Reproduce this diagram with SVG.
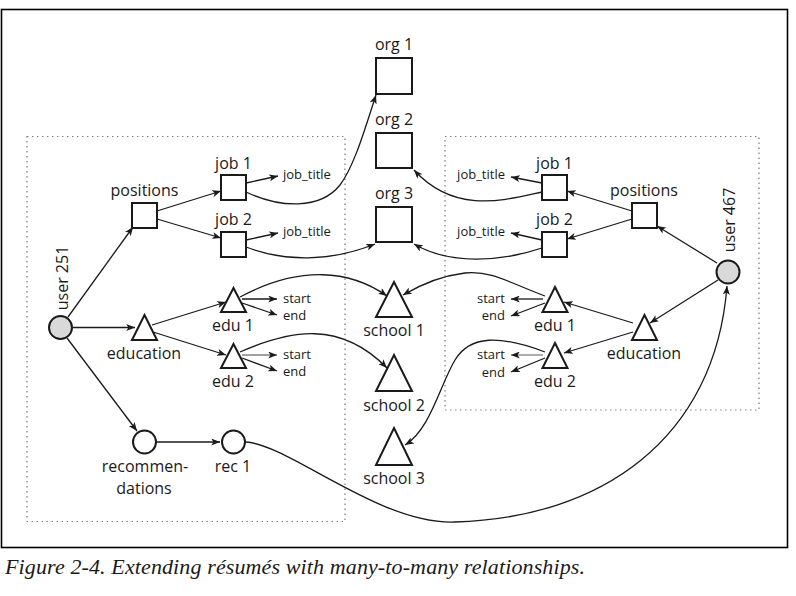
<svg xmlns="http://www.w3.org/2000/svg" width="796" height="596" viewBox="0 0 796 596">
<style>
.frame{fill:none;stroke:#000;stroke-width:1.6}
.group{fill:none;stroke:#7a7a7a;stroke-width:1.2;stroke-dasharray:1.4 3.6}
.node{fill:#fff;stroke:#1a1a1a;stroke-width:2}
.user{fill:#d9d9d9;stroke:#1a1a1a;stroke-width:2}
.edge{fill:none;stroke:#1a1a1a;stroke-width:1.3;marker-end:url(#arr)}
.gray{stroke:#808080}
.lbl{font-family:"Open Sans","DejaVu Sans",sans-serif;font-size:16px;fill:#1a1a1a;text-anchor:middle}
.sm{font-family:"Open Sans","DejaVu Sans",sans-serif;font-size:13px;fill:#1a1a1a}
.end{text-anchor:end}
.cap{font-family:"Liberation Serif","Times New Roman",serif;font-style:italic;font-size:22px;fill:#1a1a1a}
</style>
<defs>
<marker id="arr" markerUnits="userSpaceOnUse" viewBox="0 0 10 8" refX="10" refY="4" markerWidth="9" markerHeight="7" orient="auto">
<path d="M0,0 L10,4 L0,8 L2.5,4 z" fill="#1a1a1a"/>
</marker>
</defs>
<rect width="796" height="596" fill="#fff"/>
<rect class="frame" x="1.5" y="9.5" width="786" height="538"/>
<rect class="group" x="27" y="136.5" width="318" height="385"/>
<rect class="group" x="445" y="136.5" width="314" height="273.5"/>

<g id="connectors">
<path class="edge" d="M68,317 L133,227"/>
<path class="edge" d="M73,327.5 L135,327.5"/>
<path class="edge" d="M67,338 L137,431"/>
<path class="edge" d="M157,211 L221,191"/>
<path class="edge" d="M157,219 L221,238"/>
<path class="edge" d="M246,183 L278,176"/>
<path class="edge" d="M246,240 L278,233"/>
<path class="edge" d="M246,192 C280,208 320,210 340,185 C355,165 366,125 376,95"/>
<path class="edge" d="M246,247 C285,262 330,262 375,244"/>
<path class="edge" d="M152,325 L226,302"/>
<path class="edge" d="M153,332 L226,355"/>
<path class="edge" d="M242,299 L277,299"/>
<path class="edge" d="M242,303 L277,315"/>
<path class="edge gray" d="M242,355 L277,355"/>
<path class="edge" d="M242,358 L277,371"/>
<path class="edge" d="M240,297 C300,265 350,270 387,296"/>
<path class="edge" d="M240,352 C290,330 340,320 387,368"/>
<path class="edge" d="M157,442 L220,442"/>
<path class="edge" d="M246,442 C290,445 380,525 455,522 C600,518 715,440 727,286"/>
<path class="edge" d="M717,263 L657,226"/>
<path class="edge" d="M718,280 L650,323"/>
<path class="edge" d="M632,211 L567,191"/>
<path class="edge" d="M632,219 L567,239"/>
<path class="edge" d="M542,183 L511,177"/>
<path class="edge" d="M542,240 L511,233"/>
<path class="edge" d="M542,192 C505,200 455,215 414,170"/>
<path class="edge" d="M542,248 C500,262 450,265 414,244"/>
<path class="edge" d="M633,323 L564,302"/>
<path class="edge" d="M633,332 L564,353"/>
<path class="edge" d="M543,299 L511,299"/>
<path class="edge" d="M545,303 L511,316"/>
<path class="edge gray" d="M543,355 L511,355"/>
<path class="edge" d="M545,358 L511,372"/>
<path class="edge" d="M545,296 C510,283 490,270 465,273 C440,276 420,285 403,295"/>
<path class="edge" d="M545,352 C500,335 470,335 455,360 C440,385 430,430 405,445"/>
</g>

<g id="user251"><circle class="user" cx="60.5" cy="327.5" r="11.5"/><text class="lbl" transform="translate(68,278) rotate(-90)">user 251</text></g>
<g id="positionsL"><rect class="node" x="132" y="203" width="25" height="25"/><text class="lbl" x="144.5" y="196">positions</text></g>
<g id="job1L"><rect class="node" x="221" y="175" width="25" height="25"/><text class="lbl" x="233.5" y="169">job 1</text><text class="sm" x="283" y="179">job_title</text></g>
<g id="job2L"><rect class="node" x="221" y="232" width="25" height="25"/><text class="lbl" x="233.5" y="225">job 2</text><text class="sm" x="283" y="236">job_title</text></g>
<g id="educationL"><polygon class="node" points="144.5,315 157,340 132,340"/><text class="lbl" x="144" y="359">education</text></g>
<g id="edu1L"><polygon class="node" points="233.5,288 246,312 221,312"/><text class="lbl" x="233" y="331">edu 1</text><text class="sm" x="283" y="303">start</text><text class="sm" x="283" y="320">end</text></g>
<g id="edu2L"><polygon class="node" points="233.5,344 246,368 221,368"/><text class="lbl" x="233" y="387">edu 2</text><text class="sm" x="283" y="359">start</text><text class="sm" x="283" y="376">end</text></g>
<g id="recommendations"><circle class="node" cx="144.5" cy="442" r="11.5"/><text class="lbl" x="145" y="472">recommen-</text><text class="lbl" x="144" y="494">dations</text></g>
<g id="rec1"><circle class="node" cx="233.5" cy="442" r="11.5"/><text class="lbl" x="233" y="472">rec 1</text></g>

<g id="org1"><rect class="node" x="376" y="58" width="36" height="36"/><text class="lbl" x="394" y="50">org 1</text></g>
<g id="org2"><rect class="node" x="376" y="133" width="36" height="35"/><text class="lbl" x="394" y="125">org 2</text></g>
<g id="org3"><rect class="node" x="376" y="207" width="36" height="35"/><text class="lbl" x="394" y="199">org 3</text></g>
<g id="school1"><polygon class="node" points="394,282 412,317 376,317"/><text class="lbl" x="394" y="336">school 1</text></g>
<g id="school2"><polygon class="node" points="394,355 412,391 376,391"/><text class="lbl" x="394" y="411">school 2</text></g>
<g id="school3"><polygon class="node" points="394,428 412,465 376,465"/><text class="lbl" x="394" y="484">school 3</text></g>

<g id="user467"><circle class="user" cx="728" cy="272" r="11.5"/><text class="lbl" transform="translate(735,220) rotate(-90)">user 467</text></g>
<g id="positionsR"><rect class="node" x="632" y="203" width="25" height="25"/><text class="lbl" x="644" y="196">positions</text></g>
<g id="job1R"><rect class="node" x="542" y="175" width="25" height="25"/><text class="lbl" x="554.5" y="169">job 1</text><text class="sm end" x="505" y="179">job_title</text></g>
<g id="job2R"><rect class="node" x="542" y="232" width="25" height="25"/><text class="lbl" x="554.5" y="225">job 2</text><text class="sm end" x="505" y="236">job_title</text></g>
<g id="educationR"><polygon class="node" points="644.5,315 657,340 632,340"/><text class="lbl" x="644" y="359">education</text></g>
<g id="edu1R"><polygon class="node" points="555,287 567.5,312 542.5,312"/><text class="lbl" x="555" y="331">edu 1</text><text class="sm end" x="505" y="303">start</text><text class="sm end" x="505" y="320">end</text></g>
<g id="edu2R"><polygon class="node" points="555,343 567.5,368 542.5,368"/><text class="lbl" x="555" y="387">edu 2</text><text class="sm end" x="505" y="359">start</text><text class="sm end" x="505" y="377">end</text></g>

<text class="cap" x="5" y="574" textLength="580" lengthAdjust="spacing">Figure 2-4. Extending résumés with many-to-many relationships.</text>
</svg>
